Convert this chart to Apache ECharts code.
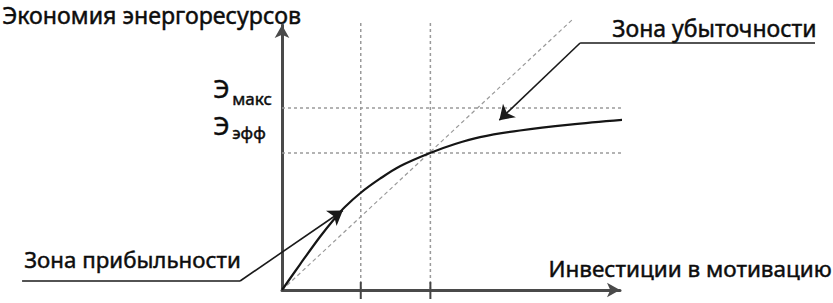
<!DOCTYPE html>
<html>
<head>
<meta charset="utf-8">
<script src="https://cdn.jsdelivr.net/npm/echarts@6/dist/echarts.min.js"></script>
<style>
html,body{margin:0;padding:0;background:#fff;}
#chart{width:833px;height:303px;}
</style>
</head>
<body>
<div id="chart"></div>
<script>
// ---- data (axis units 0..100 on both axes) ----
const curveX = [0, 5.3, 11.2, 15.7, 18.6, 23.3, 29.0, 34.9, 43.8, 51.2, 58.6, 70.4, 85.2, 100.9];
const curveY = [0, 9.6, 20.0, 27.2, 31.3, 36.7, 42.0, 46.7, 51.7, 55.1, 57.7, 60.2, 62.4, 64.2];
const diagX = [0, 85.8];
const diagY = [0, 101.9];
const vLinesX = [23.3, 43.9];          // investment levels
const hLinesY = [68.7, 51.7];          // Э макс, Э эфф
const hLineEndX = 100.9;
const vLineTopY = 100.8;
const tickSpan = [-3.4, 3.0];
const profitArrowX = [-76.9, -12.4, 18.0];
const profitArrowY = [3.4, 3.4, 30.0];
const lossArrowX = [157.7, 88.2, 64.3];
const lossArrowY = [93.2, 93.2, 64.1];
const yTitle = 'Экономия энергоресурсов';
const xTitle = 'Инвестиции в мотивацию';
const profitLabel = 'Зона прибыльности';
const lossLabel = 'Зона убыточности';
const hLabels = [['Э', 'макс'], ['Э', 'эфф']];

const FONT = '"Noto Sans", sans-serif';
const INK = '#0d0d0d';
const zip = (xs, ys) => xs.map((x, i) => [x, ys[i]]);

const dashed = {color: '#9a9a9a', width: 1.5, type: [3, 3]};
const series = [];

// curve
series.push({type: 'line', data: zip(curveX, curveY), smooth: 0.35, symbol: 'none', clip: false,
  lineStyle: {color: '#151515', width: 2.2}, z: 5});
// diagonal
series.push({type: 'line', data: zip(diagX, diagY), symbol: 'none', clip: false,
  lineStyle: {color: '#9a9a9a', width: 1.2, type: [4, 3]}, z: 2});
// vertical dashed + ticks
vLinesX.forEach(x => {
  series.push({type: 'line', data: [[x, 0], [x, vLineTopY]], symbol: 'none', clip: false, lineStyle: dashed, z: 2});
  series.push({type: 'line', data: [[x, tickSpan[0]], [x, tickSpan[1]]], symbol: 'none', clip: false,
    lineStyle: {color: '#444', width: 2}, z: 6});
});
// horizontal dashed
hLinesY.forEach(y => {
  series.push({type: 'line', data: [[0, y], [hLineEndX, y]], symbol: 'none', clip: false, lineStyle: dashed, z: 2});
});
// annotation leaders: underline + pointer with arrow
const leaderStyle = {color: '#1a1a1a', width: 1.6, opacity: 1};
series.push({type: 'lines', coordinateSystem: 'cartesian2d', clip: false,
  symbol: ['none', 'none'], lineStyle: leaderStyle, z: 7,
  data: [
    {coords: [[profitArrowX[0], profitArrowY[0]], [profitArrowX[1], profitArrowY[1]]]},
    {coords: [[lossArrowX[0], lossArrowY[0]], [lossArrowX[1], lossArrowY[1]]]}
  ]});
series.push({type: 'lines', coordinateSystem: 'cartesian2d', clip: false,
  symbol: ['none', 'arrow'], symbolSize: [11, 14],
  lineStyle: leaderStyle, itemStyle: {color: '#1a1a1a'}, z: 7,
  data: [
    {coords: [[profitArrowX[1], profitArrowY[1]], [profitArrowX[2], profitArrowY[2]]]},
    {coords: [[lossArrowX[1], lossArrowY[1]], [lossArrowX[2], lossArrowY[2]]]}
  ]});

const txt = (size) => ({font: size + 'px ' + FONT, fill: INK, stroke: INK, lineWidth: 0.45});
const graphic = [];
graphic.push({type: 'text', left: 2, top: 3, style: Object.assign({text: yTitle}, txt(23.2))});
graphic.push({type: 'text', right: 1, top: 257, style: Object.assign({text: xTitle}, txt(22.5))});
graphic.push({type: 'text', left: 24, top: 248, style: Object.assign({text: profitLabel}, txt(22.3))});
graphic.push({type: 'text', left: 612, top: 16, style: Object.assign({text: lossLabel}, txt(23))});
const hTop = [[75, 90], [112, 124]];
hLabels.forEach((lab, i) => {
  graphic.push({type: 'text', left: 213, top: hTop[i][0], style: Object.assign({text: lab[0]}, txt(25))});
  graphic.push({type: 'text', left: 232, top: hTop[i][1], style: Object.assign({text: lab[1]}, txt(17))});
});

const axisCommon = {
  type: 'value', min: 0, max: 100,
  axisLine: {show: true, lineStyle: {color: '#4a4a4a', width: 3}, symbol: ['none', 'arrow'], symbolSize: [11, 13]},
  axisTick: {show: false}, axisLabel: {show: false}, splitLine: {show: false}
};

const chart = echarts.init(document.getElementById('chart'), null, {renderer: 'svg'});
chart.setOption({
  animation: false,
  grid: {left: 282, right: 213, top: 25, bottom: 13},
  xAxis: Object.assign({}, axisCommon),
  yAxis: Object.assign({}, axisCommon),
  series: series,
  graphic: graphic
});
</script>
</body>
</html>
